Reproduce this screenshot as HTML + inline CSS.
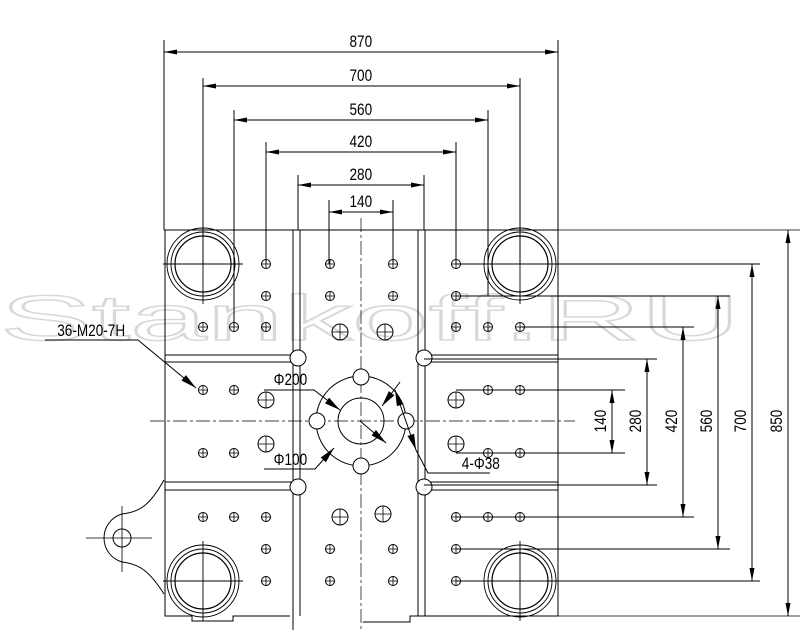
<!DOCTYPE html>
<html><head><meta charset="utf-8"><style>body{margin:0;background:#fff}svg{display:block}</style></head><body>
<svg width="808" height="643" viewBox="0 0 808 643" xmlns="http://www.w3.org/2000/svg" font-family="Liberation Sans, sans-serif">
<defs>
<path id="ar" d="M0,0L-13,-2.5L-13,2.5z" fill="#000"/>
<path id="lb" d="M0,0L-16,-3.5L-16,3.5z" fill="#000"/>
<g id="h"><circle r="4.5" fill="none" stroke="#000" stroke-width="1"/><path d="M-5,0H5M0,-5V5" stroke="#000" stroke-width="0.8"/></g>
<g id="H"><circle r="8" fill="none" stroke="#000" stroke-width="1"/><path d="M-8,0H8M0,-8V8" stroke="#000" stroke-width="0.8"/></g>
<g id="T"><circle r="36" fill="none" stroke="#000" stroke-width="0.9"/><circle r="32" fill="none" stroke="#000" stroke-width="0.9"/><circle r="28" fill="none" stroke="#000" stroke-width="1.2"/><path d="M-40,0H40M0,-40V40" stroke="#000" stroke-width="0.9"/></g>
</defs>
<text x="0" y="340" font-size="64" fill="none" stroke="#d8d8d8" stroke-width="1.5" textLength="740" lengthAdjust="spacingAndGlyphs">Stankoff.RU</text>
<g stroke="#000" stroke-width="1" fill="none">
<path d="M164,230H558V616H410V622H363M165,230V616H192V621H233V616H290"/>
<path d="M558,230H800M558,616H800" stroke-width="0.8"/>
<path d="M164,480C150,505 140,512 122,514A25,25 0 0 0 122,562C140,564 150,572 164,594"/>
<circle cx="122" cy="538" r="9"/>
<path d="M86,538H152M122,506V572" stroke-width="0.8"/>
<path d="M293,230V630M300,230V616M418,230V616M425,230V616"/>
<path d="M165,355H293M165,362H293M425,355H558M425,362H558M165,482H293M165,490H293M425,482H558M425,490H558"/>
<circle cx="298" cy="358" r="8" fill="#fff"/><circle cx="424" cy="358" r="8" fill="#fff"/>
<circle cx="298" cy="487" r="8" fill="#fff"/><circle cx="424" cy="487" r="8" fill="#fff"/>
<path d="M361,218V630" stroke-dasharray="14,3,3,3" stroke-width="0.7"/>
<path d="M150,421H575" stroke-dasharray="14,3,3,3" stroke-width="0.7"/>
<circle cx="361" cy="421" r="45"/><circle cx="361" cy="421" r="23"/>
<circle cx="361" cy="377" r="8" fill="#fff"/><circle cx="361" cy="466" r="8" fill="#fff"/>
<circle cx="317" cy="421" r="8" fill="#fff"/><circle cx="406" cy="421" r="8" fill="#fff"/>
<path d="M264,390H314L340,410"/>
<path d="M400,382L382,406"/>
<path d="M264,469H315L334,448"/>
<path d="M360,421L386,443"/>
<path d="M395,390L416,450L428,473H490"/>
<path d="M45,340H138L196,388"/>
<path d="M164,230V40M558,230V40M203,264V78M520,264V78M234,327V110M488,296V110M266,264V142M456,264V142M298,230V175M424,230V175M329,264V200M393,264V200"/>
<path d="M164,52H558M203,86H520M234,120H488M266,152H456M298,185H424M329,212H393"/>
<path d="M456,264H760M456,296H730M520,327H694M424,359H657M456,390H625M456,453H625M424,485H657M456,517H694M456,549H730M456,581H760"/>
<path d="M612,390V453M647,359V485M683,327V517M718,296V549M752,264V581M788,230V616"/>
</g>
<g>
<use href="#ar" transform="translate(558,52)"/><use href="#ar" transform="translate(164,52) rotate(180)"/>
<use href="#ar" transform="translate(520,86)"/><use href="#ar" transform="translate(203,86) rotate(180)"/>
<use href="#ar" transform="translate(488,120)"/><use href="#ar" transform="translate(234,120) rotate(180)"/>
<use href="#ar" transform="translate(456,152)"/><use href="#ar" transform="translate(266,152) rotate(180)"/>
<use href="#ar" transform="translate(424,185)"/><use href="#ar" transform="translate(298,185) rotate(180)"/>
<use href="#ar" transform="translate(393,212)"/><use href="#ar" transform="translate(329,212) rotate(180)"/>
<use href="#ar" transform="translate(612,453) rotate(90)"/><use href="#ar" transform="translate(612,390) rotate(-90)"/>
<use href="#ar" transform="translate(647,485) rotate(90)"/><use href="#ar" transform="translate(647,359) rotate(-90)"/>
<use href="#ar" transform="translate(683,517) rotate(90)"/><use href="#ar" transform="translate(683,327) rotate(-90)"/>
<use href="#ar" transform="translate(718,549) rotate(90)"/><use href="#ar" transform="translate(718,296) rotate(-90)"/>
<use href="#ar" transform="translate(752,581) rotate(90)"/><use href="#ar" transform="translate(752,264) rotate(-90)"/>
<use href="#ar" transform="translate(788,616) rotate(90)"/><use href="#ar" transform="translate(788,230) rotate(-90)"/>
<use href="#lb" transform="translate(196,388) rotate(39.6)"/>
<use href="#lb" transform="translate(340,410) rotate(36)"/>
<use href="#lb" transform="translate(382,406) rotate(127)"/>
<use href="#lb" transform="translate(334,448) rotate(-48)"/>
<use href="#lb" transform="translate(386,443) rotate(40)"/>
<use href="#lb" transform="translate(395,390) rotate(-109)"/>
<use href="#lb" transform="translate(416,450) rotate(71)"/>
</g>
<use href="#T" x="203" y="264"/><use href="#T" x="520" y="264"/><use href="#T" x="203" y="581"/><use href="#T" x="520" y="581"/>
<g>
<use href="#h" x="266" y="264"/><use href="#h" x="330" y="264"/><use href="#h" x="393" y="264"/><use href="#h" x="456" y="264"/>
<use href="#h" x="266" y="296"/><use href="#h" x="330" y="296"/><use href="#h" x="393" y="296"/><use href="#h" x="456" y="296"/>
<use href="#h" x="203" y="327"/><use href="#h" x="234" y="327"/><use href="#h" x="266" y="327"/><use href="#h" x="456" y="327"/><use href="#h" x="488" y="327"/><use href="#h" x="520" y="327"/>
<use href="#h" x="203" y="390"/><use href="#h" x="234" y="390"/><use href="#h" x="488" y="390"/><use href="#h" x="520" y="390"/>
<use href="#h" x="203" y="453"/><use href="#h" x="234" y="453"/><use href="#h" x="488" y="453"/><use href="#h" x="520" y="453"/>
<use href="#h" x="203" y="517"/><use href="#h" x="234" y="517"/><use href="#h" x="266" y="517"/><use href="#h" x="456" y="517"/><use href="#h" x="488" y="517"/><use href="#h" x="520" y="517"/>
<use href="#h" x="266" y="549"/><use href="#h" x="330" y="549"/><use href="#h" x="393" y="549"/><use href="#h" x="456" y="549"/>
<use href="#h" x="266" y="581"/><use href="#h" x="330" y="581"/><use href="#h" x="393" y="581"/><use href="#h" x="456" y="581"/>
<use href="#H" x="340" y="332"/><use href="#H" x="385" y="332"/><use href="#H" x="266" y="400"/><use href="#H" x="456" y="400"/>
<use href="#H" x="266" y="444"/><use href="#H" x="456" y="444"/><use href="#H" x="340" y="517"/><use href="#H" x="383" y="514"/>
</g>
<g font-size="17" fill="#000" text-anchor="middle">
<g transform="scale(0.8,1)">
<text x="451" y="47">870</text><text x="451" y="81">700</text><text x="451" y="115">560</text>
<text x="451" y="147">420</text><text x="451" y="180">280</text><text x="451" y="207">140</text>
<text x="363" y="385">Φ200</text><text x="363" y="465">Φ100</text><text x="601" y="469">4-Φ38</text>
<text x="114" y="336">36-M20-7H</text>
</g>
<g transform="translate(606,421) rotate(-90) scale(0.8,1)"><text>140</text></g>
<g transform="translate(641,421) rotate(-90) scale(0.8,1)"><text>280</text></g>
<g transform="translate(677,421) rotate(-90) scale(0.8,1)"><text>420</text></g>
<g transform="translate(712,421) rotate(-90) scale(0.8,1)"><text>560</text></g>
<g transform="translate(746,421) rotate(-90) scale(0.8,1)"><text>700</text></g>
<g transform="translate(782,421) rotate(-90) scale(0.8,1)"><text>850</text></g>
</g>
</svg>
</body></html>
